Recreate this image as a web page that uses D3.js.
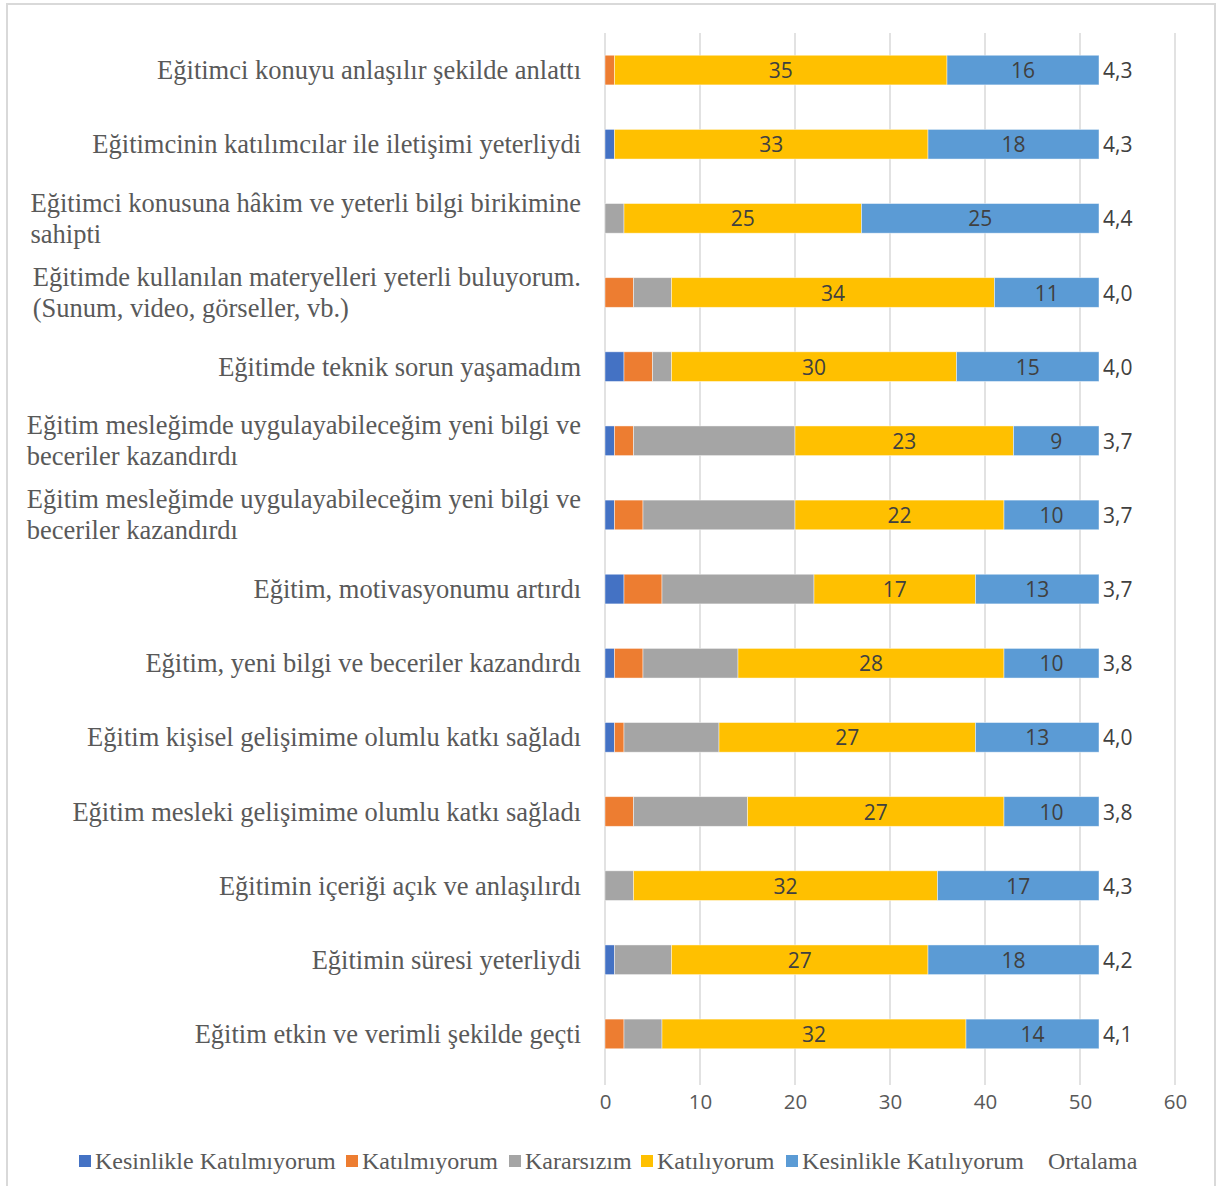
<!DOCTYPE html>
<html>
<head>
<meta charset="utf-8">
<script src="https://cdn.jsdelivr.net/npm/d3@7"></script>
<style>
  html, body { margin: 0; padding: 0; background: #fff; }
  svg { display: block; }
</style>
</head>
<body>
<svg id="chart" width="1217" height="1186"></svg>
<script>
const categories = [
  ["Eğitimci konuyu anlaşılır şekilde anlattı"],
  ["Eğitimcinin katılımcılar ile iletişimi yeterliydi"],
  ["Eğitimci konusuna hâkim ve yeterli bilgi birikimine", "sahipti"],
  ["Eğitimde kullanılan materyelleri yeterli buluyorum.", "(Sunum, video, görseller, vb.)"],
  ["Eğitimde teknik sorun yaşamadım"],
  ["Eğitim mesleğimde uygulayabileceğim yeni bilgi ve", "beceriler kazandırdı"],
  ["Eğitim mesleğimde uygulayabileceğim yeni bilgi ve", "beceriler kazandırdı"],
  ["Eğitim, motivasyonumu artırdı"],
  ["Eğitim, yeni bilgi ve beceriler kazandırdı"],
  ["Eğitim kişisel gelişimime olumlu katkı sağladı"],
  ["Eğitim mesleki gelişimime olumlu katkı sağladı"],
  ["Eğitimin içeriği açık ve anlaşılırdı"],
  ["Eğitimin süresi yeterliydi"],
  ["Eğitim etkin ve verimli şekilde geçti"]
];
const seriesNames = ["Kesinlikle Katılmıyorum", "Katılmıyorum", "Kararsızım", "Katılıyorum", "Kesinlikle Katılıyorum", "Ortalama"];
const kesinlikleKatilmiyorum = [0, 1, 0, 0, 2, 1, 1, 2, 1, 1, 0, 0, 1, 0];
const katilmiyorum           = [1, 0, 0, 3, 3, 2, 3, 4, 3, 1, 3, 0, 0, 2];
const kararsizim             = [0, 0, 2, 4, 2, 17, 16, 16, 10, 10, 12, 3, 6, 4];
const katiliyorum            = [35, 33, 25, 34, 30, 23, 22, 17, 28, 27, 27, 32, 27, 32];
const kesinlikleKatiliyorum  = [16, 18, 25, 11, 15, 9, 10, 13, 10, 13, 10, 17, 18, 14];
const ortalama               = [4.3, 4.3, 4.4, 4.0, 4.0, 3.7, 3.7, 3.7, 3.8, 4.0, 3.8, 4.3, 4.2, 4.1];
const xTicks = [0, 10, 20, 30, 40, 50, 60];
const colors = ["#4472C4", "#ED7D31", "#A5A5A5", "#FFC000", "#5B9BD5", "none"];
const labeled = [false, false, false, true, true, false];

const svg = d3.select("#chart");
const W = 1217, H = 1186;

// outer border
svg.append("rect").attr("x", 7).attr("y", 4).attr("width", W - 7 - 2).attr("height", H + 10)
  .attr("fill", "none").attr("stroke", "#d9d9d9").attr("stroke-width", 2);

const plot = { left: 605, right: 1175, top: 33, bottom: 1071 };
const x = d3.scaleLinear().domain([0, 60]).range([plot.left, plot.right]);
const idx = d3.range(categories.length);
const y = d3.scaleBand().domain(idx).range([plot.top, plot.bottom]).paddingInner(0.6).paddingOuter(0.3);

// gridlines
svg.append("g").selectAll("line").data(xTicks).join("line")
  .attr("x1", d => x(d)).attr("x2", d => x(d))
  .attr("y1", plot.top).attr("y2", plot.bottom + 14)
  .attr("stroke", "#d9d9d9").attr("stroke-width", 1.5);

// stacked data
const rows = idx.map(i => ({
  i,
  s0: kesinlikleKatilmiyorum[i], s1: katilmiyorum[i], s2: kararsizim[i],
  s3: katiliyorum[i], s4: kesinlikleKatiliyorum[i], s5: ortalama[i]
}));
const keys = ["s0", "s1", "s2", "s3", "s4", "s5"];
const stack = d3.stack().keys(keys)(rows);

const numFont = "'Open Sans', sans-serif";
const gBars = svg.append("g");
stack.forEach((layer, k) => {
  const g = gBars.append("g");
  if (colors[k] !== "none") {
    g.selectAll("rect").data(layer.filter(d => d[1] - d[0] > 0)).join("rect")
      .attr("x", d => x(d[0])).attr("width", d => x(d[1]) - x(d[0]))
      .attr("y", d => y(d.data.i)).attr("height", y.bandwidth())
      .attr("fill", colors[k])
      .attr("stroke", "#ffffff").attr("stroke-opacity", 0.55).attr("stroke-width", 0.8);
  }
  if (labeled[k]) {
    g.selectAll("text").data(layer.filter(d => d[1] - d[0] > 0)).join("text")
      .attr("x", d => (x(d[0]) + x(d[1])) / 2)
      .attr("y", d => y(d.data.i) + y.bandwidth() / 2)
      .attr("text-anchor", "middle").attr("dominant-baseline", "central")
      .attr("font-family", numFont).attr("font-size", 21)
      .attr("fill", "#404040")
      .text(d => d[1] - d[0]);
  }
  if (k === 5) {
    g.selectAll("text").data(layer).join("text")
      .attr("x", d => x(d[0]) + 4)
      .attr("y", d => y(d.data.i) + y.bandwidth() / 2)
      .attr("text-anchor", "start").attr("dominant-baseline", "central")
      .attr("font-family", numFont).attr("font-size", 21)
      .attr("fill", "#404040")
      .text(d => d3.format(".1f")(d.data.s5).replace(".", ","));
  }
});

// x axis tick labels
const xAxis = d3.axisBottom(x).tickValues(xTicks).tickSize(0).tickPadding(0);
const gx = svg.append("g").attr("transform", `translate(0, ${plot.bottom + 23})`).call(xAxis);
gx.select(".domain").remove();
gx.selectAll("text").attr("font-family", numFont).attr("font-size", 20.5)
  .attr("fill", "#595959");

// category labels
const labelRight = 581;
const lineH = 31;
const gCat = svg.append("g");
categories.forEach((lines, i) => {
  const cy = y(i) + y.bandwidth() / 2;
  const t = gCat.append("text")
    .attr("font-family", "'Liberation Serif', 'Times New Roman', serif")
    .attr("font-size", 26.5).attr("fill", "#595959");
  const n = lines.length;
  const tspans = lines.map((ln, j) => t.append("tspan")
    .attr("y", cy + (j - (n - 1) / 2) * lineH)
    .attr("dominant-baseline", "central")
    .text(ln));
  const maxW = d3.max(tspans, ts => ts.node().getComputedTextLength());
  tspans.forEach(ts => ts.attr("x", labelRight - maxW));
});

// legend
const legendY = 1161;
const legendItems = [
  { name: seriesNames[0], color: colors[0], x: 79 },
  { name: seriesNames[1], color: colors[1], x: 346 },
  { name: seriesNames[2], color: colors[2], x: 509 },
  { name: seriesNames[3], color: colors[3], x: 641 },
  { name: seriesNames[4], color: colors[4], x: 786 },
  { name: seriesNames[5], color: "none", x: 1032 }
];
const gLeg = svg.append("g");
legendItems.forEach(it => {
  if (it.color !== "none") {
    gLeg.append("rect").attr("x", it.x).attr("y", legendY - 6).attr("width", 12).attr("height", 12)
      .attr("fill", it.color);
  }
  gLeg.append("text").attr("x", it.x + 16).attr("y", legendY)
    .attr("dominant-baseline", "central")
    .attr("font-family", "'Liberation Serif', 'Times New Roman', serif")
    .attr("font-size", 24).attr("fill", "#595959")
    .text(it.name);
});
</script>
</body>
</html>
